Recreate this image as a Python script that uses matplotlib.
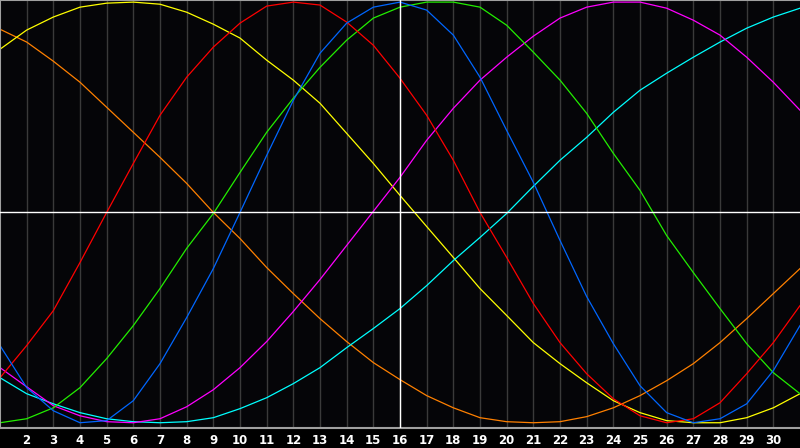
import matplotlib
matplotlib.use('Agg')
import matplotlib.pyplot as plt

# days of the month shown on the x axis
days = list(range(1, 32))
today = 16

# curve values, -100 (bottom) .. 100 (top), one value per day
yellow = [77.6, 86.7, 92.9, 97.6, 99.5, 100, 99.0, 95.2, 89.5, 82.9, 72.4,
          62.9, 51.9, 37.6, 23.3, 8.1, -6.7, -21.4, -36.2, -49.0, -61.9,
          -71.9, -81.0, -89.5, -95.2, -99.0, -100, -100, -97.6, -92.9, -86.2]
orange = [87.1, 81.0, 71.9, 61.9, 50.0, 38.1, 26.2, 13.8, 0.0, -12.4, -26.2,
          -38.6, -50.5, -61.4, -71.4, -79.5, -87.1, -92.9, -97.6, -99.5, -100,
          -99.5, -97.1, -92.9, -87.1, -80.0, -71.9, -61.9, -50.5, -38.6, -26.7]
red = [-78.6, -63.3, -46.7, -23.8, 0.0, 23.3, 46.2, 64.3, 78.6, 90.0, 98.1,
       100, 98.6, 90.5, 79.5, 63.8, 46.2, 24.8, 0.0, -21.4, -43.3,
       -61.9, -76.7, -88.6, -96.7, -100, -98.1, -90.5, -76.7, -61.9, -44.3]
green = [-100, -98.1, -92.9, -83.3, -69.5, -53.8, -36.2, -17.1, -0.5, 19.0, 38.1,
         54.3, 69.0, 81.9, 92.4, 97.6, 100, 100, 97.6, 89.0, 76.2,
         62.9, 47.1, 28.1, 10.5, -11.0, -28.6, -45.7, -62.4, -76.2, -86.2]
blue = [-63.3, -83.3, -94.3, -100, -99.0, -89.5, -71.9, -50.0, -26.7, 0.0, 27.1,
        53.3, 75.7, 90.0, 97.6, 100, 96.2, 84.3, 64.3, 39.0, 14.3,
        -13.3, -40.0, -62.4, -82.4, -95.2, -100, -98.1, -91.0, -75.2, -53.8]
magenta = [-73.8, -82.9, -91.9, -96.7, -99.5, -100, -98.1, -92.4, -84.3, -73.8, -61.4,
           -47.1, -31.9, -15.7, 0.5, 16.7, 34.3, 49.5, 62.9, 73.8, 83.8,
           92.4, 97.6, 100, 100, 97.1, 91.4, 84.3, 73.8, 61.9, 48.6]
cyan = [-78.6, -86.2, -91.0, -95.2, -98.1, -99.5, -100, -99.5, -97.6, -93.3, -88.1,
        -81.4, -73.8, -64.3, -55.2, -45.7, -34.8, -22.9, -11.9, -0.5, 12.4,
        24.8, 35.7, 47.6, 58.1, 66.2, 73.8, 81.0, 87.6, 92.9, 97.1]

fig = plt.figure(figsize=(8, 4.48), dpi=100, facecolor='black')
ax = fig.add_axes([0, 20 / 448, 1, 428 / 448])
ax.set_facecolor('#050508')

lw = 0.9
ax.plot(days, orange, color='#ff8000', lw=lw)
ax.plot(days, yellow, color='#ffff00', lw=lw)
ax.plot(days, cyan, color='#00ffff', lw=lw)
ax.plot(days, magenta, color='#ff00ff', lw=lw)
ax.plot(days, green, color='#22ee00', lw=lw)
ax.plot(days, red, color='#ff0000', lw=lw)
ax.plot(days, blue, color='#0066ff', lw=lw)

# today + zero line
ax.axhline(0, color='white', lw=1, zorder=5)
ax.axvline(today, color='white', lw=1, zorder=5)

ax.set_xlim(1, 31)
ax.set_ylim(-102.5, 101)
ax.set_xticks(days[1:-1])
ax.set_xticklabels([str(d) for d in days[1:-1]])
ax.set_yticks([])
ax.grid(axis='x', color='#3a3a3a', lw=1, zorder=0)
ax.set_axisbelow(True)
ax.tick_params(axis='x', length=0, pad=4, colors='white', labelsize=8.5)
for t in ax.get_xticklabels():
    t.set_fontweight('bold')

for s in ['top', 'left', 'bottom']:
    ax.spines[s].set_color('#a0a0a0')
    ax.spines[s].set_linewidth(1.5)
ax.spines['right'].set_visible(False)

plt.savefig('out.png', dpi=100, facecolor='black')
